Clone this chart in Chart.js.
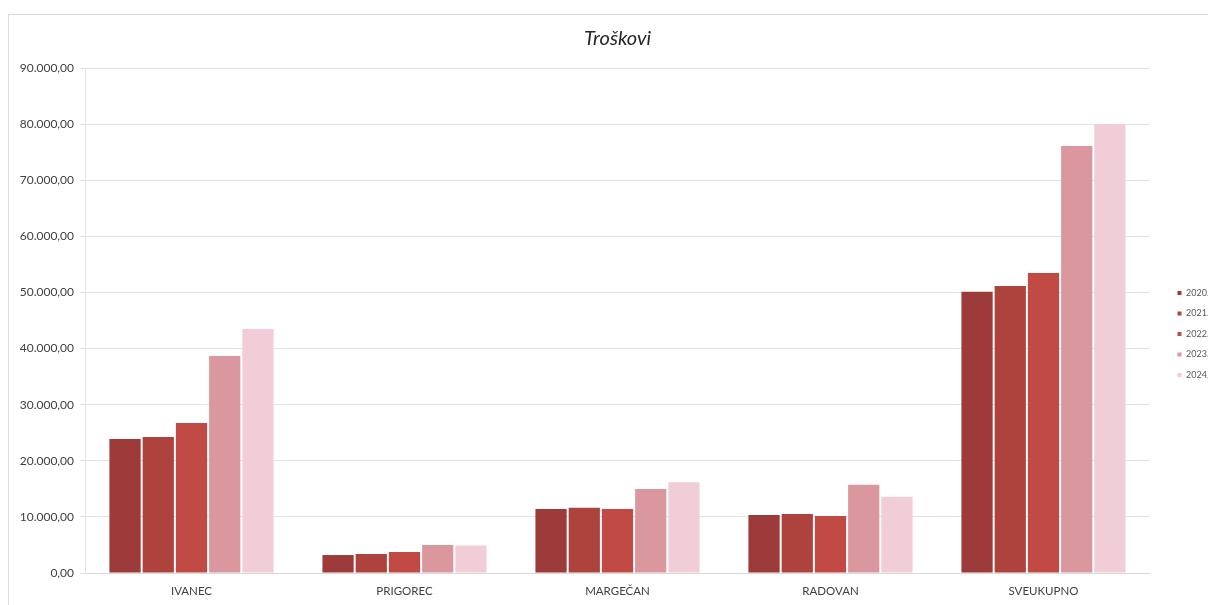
<!DOCTYPE html>
<html>
<head>
<meta charset="utf-8">
<script src="https://cdn.jsdelivr.net/npm/chart.js@4.4.1/dist/chart.umd.min.js"></script>
<style>
  html, body { margin: 0; padding: 0; background: #ffffff; }
  #wrap { position: relative; width: 1208px; height: 605px; }
  #frame { position: absolute; left: 8px; top: 14px; width: 1210px; height: 600px; border: 1px solid #dcdcdc; box-sizing: border-box; pointer-events: none; }
  canvas { position: absolute; left: 0; top: 0; }
</style>
</head>
<body>
<div id="wrap">
  <canvas id="c" width="1208" height="605"></canvas>
  <div id="frame"></div>
</div>
<script>
const categories = ['IVANEC', 'PRIGOREC', 'MARGEČAN', 'RADOVAN', 'SVEUKUPNO'];
const seriesLabels = ['2020.', '2021.', '2022.', '2023.', '2024.'];
const values2020 = [23900, 3200, 11400, 10340, 50140];
const values2021 = [24250, 3390, 11640, 10520, 51160];
const values2022 = [26740, 3740, 11400, 10160, 53480];
const values2023 = [38680, 4990, 14970, 15740, 76110];
const values2024 = [43490, 4900, 16170, 13600, 80030];
const seriesColors = ['#9c3b3a', '#ae423d', '#c24a45', '#da989e', '#f1cdd7'];
const yMin = 0, yMax = 90000, yStep = 10000;

const allValues = [values2020, values2021, values2022, values2023, values2024];
const fmt = new Intl.NumberFormat('de-DE', { minimumFractionDigits: 2, maximumFractionDigits: 2 });
const FONT = 'Lato, "Open Sans", sans-serif';

// shifts legend and title blocks after layout so they sit like the reference
const shiftPlugin = {
  id: 'shiftBlocks',
  afterLayout(chart) {
    const lg = chart.legend;
    if (lg) {
      const dx = 1176 - (lg.left + 10);
      lg.left += dx; lg.right += dx;
      const dy = 277 - lg.top;
      lg.top += dy; lg.bottom += dy;
    }
    const tb = chart.titleBlock;
    if (tb) {
      const ca = chart.chartArea;
      const cx = (ca.left + ca.right) / 2;
      const cur = (tb.left + tb.right) / 2;
      tb.left += cx - cur; tb.right += cx - cur;
    }
  }
};

new Chart(document.getElementById('c'), {
  type: 'bar',
  data: {
    labels: categories,
    datasets: seriesLabels.map((lab, i) => ({
      label: lab,
      data: allValues[i],
      backgroundColor: seriesColors[i],
      borderWidth: 0,
      categoryPercentage: 0.78,
      barPercentage: 0.94
    }))
  },
  options: {
    responsive: false,
    animation: false,
    devicePixelRatio: 1,
    layout: { padding: { left: 0, right: 5, top: 19, bottom: 0 } },
    plugins: {
      title: {
        display: true,
        text: 'Troškovi',
        color: '#262626',
        font: { family: FONT, size: 20, style: 'italic', weight: 'normal' },
        padding: { top: 8, bottom: 17 }
      },
      legend: {
        position: 'right',
        align: 'start',
        labels: {
          boxWidth: 4,
          boxHeight: 4,
          padding: 11.5,
          color: '#595959',
          font: { family: FONT, size: 9 }
        }
      },
      tooltip: { enabled: false }
    },
    scales: {
      x: {
        afterFit(scale) { scale.height = 32; },
        grid: { display: false, drawTicks: false },
        border: { display: true, color: '#d9d9d9' },
        ticks: {
          color: '#404040',
          padding: 11,
          font: { family: FONT, size: 11.5 }
        }
      },
      y: {
        min: yMin,
        max: yMax,
        afterFit(scale) { scale.width = 85; },
        ticks: {
          stepSize: yStep,
          color: '#404040',
          padding: 6,
          font: { family: FONT, size: 12 },
          callback: (v) => fmt.format(v)
        },
        grid: { color: '#e3e3e3', tickLength: 5 },
        border: { display: true, color: '#e3e3e3' }
      }
    }
  },
  plugins: [shiftPlugin]
});
</script>
</body>
</html>
